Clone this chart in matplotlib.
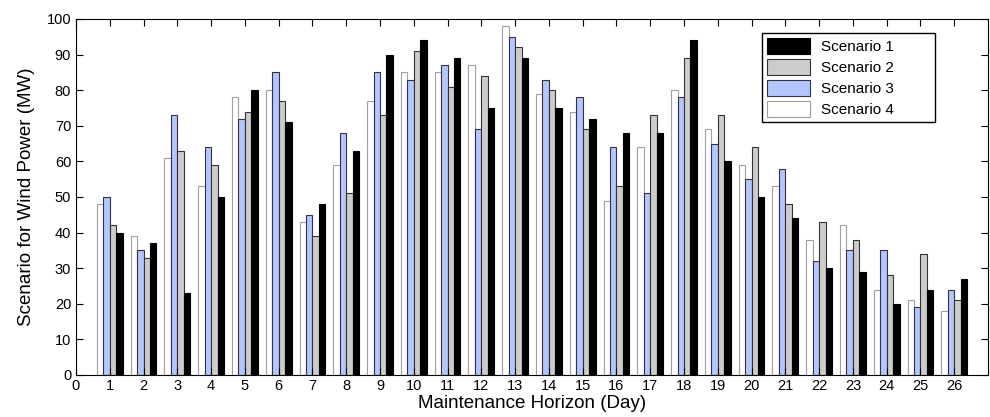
import matplotlib.pyplot as plt
import numpy as np

plt.rcParams['font.family'] = ['Liberation Sans', 'DejaVu Sans']

days = np.arange(1, 27)
scenario1 = [40, 37, 23, 50, 80, 71, 48, 63, 90, 94, 89, 75, 89, 75, 72, 68, 68, 94, 60, 50, 44, 30, 29, 20, 24, 27]
scenario2 = [42, 33, 63, 59, 74, 77, 39, 51, 73, 91, 81, 84, 92, 80, 69, 53, 73, 89, 73, 64, 48, 43, 38, 28, 34, 21]
scenario3 = [50, 35, 73, 64, 72, 85, 45, 68, 85, 83, 87, 69, 95, 83, 78, 64, 51, 78, 65, 55, 58, 32, 35, 35, 19, 24]
scenario4 = [48, 39, 61, 53, 78, 80, 43, 59, 77, 85, 85, 87, 98, 79, 74, 49, 64, 80, 69, 59, 53, 38, 42, 24, 21, 18]
labels = ['Scenario 1', 'Scenario 2', 'Scenario 3', 'Scenario 4']

fig = plt.figure(figsize=(9.9, 4.17), dpi=100)
ax = fig.add_axes([76 / 990, 1 - 375 / 417, 912 / 990, 356 / 417])

w = 0.19
# drawn left to right: scenario 4, 3, 2, 1
b4 = ax.bar(days - 1.5 * w, scenario4, w, color='white', edgecolor='#a0a0a0', linewidth=0.8)
b3 = ax.bar(days - 0.5 * w, scenario3, w, color='#b3c6ff', edgecolor='#333344', linewidth=0.8)
b2 = ax.bar(days + 0.5 * w, scenario2, w, color='#cccccc', edgecolor='#333333', linewidth=0.8)
b1 = ax.bar(days + 1.5 * w, scenario1, w, color='black', edgecolor='black', linewidth=0.8)

ax.set_xlim(0, 27)
ax.set_ylim(0, 100)
ax.set_xticks(range(0, 27))
ax.set_yticks(range(0, 101, 10))
ax.tick_params(direction='in', top=True, right=True, labelsize=10.5, length=5, width=0.8)
ax.tick_params(axis='x', pad=3)
for s in ax.spines.values():
    s.set_linewidth(0.8)

ax.set_xlabel('Maintenance Horizon (Day)', fontsize=13.5, labelpad=1)
ax.set_ylabel('Scenario for Wind Power (MW)', fontsize=13.5, labelpad=8)

leg = ax.legend([b1, b2, b3, b4], labels, loc='upper left',
                bbox_to_anchor=(762 / 990, 1 - 127 / 417, 173 / 990, 94 / 417),
                bbox_transform=fig.transFigure, mode='expand', fontsize=11, fancybox=False,
                framealpha=1, edgecolor='black', handlelength=2.8, handleheight=1.18,
                borderaxespad=0, labelspacing=0.33, handletextpad=0.7, borderpad=0.35)
leg.get_frame().set_linewidth(1.0)

fig.savefig('out.png', dpi=100)
